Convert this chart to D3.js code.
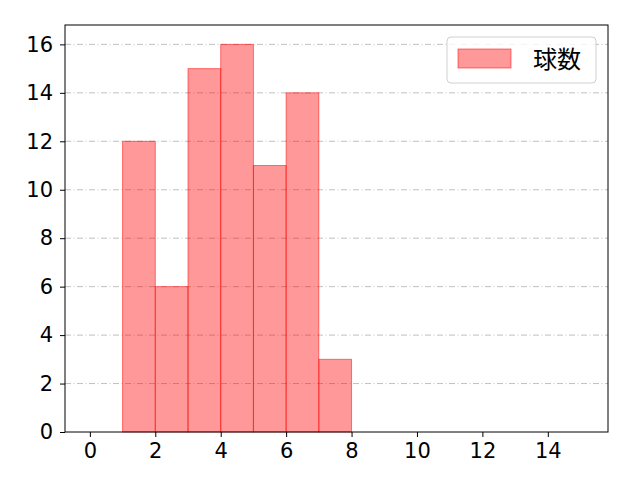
<!DOCTYPE html>
<html>
<head>
<meta charset="utf-8">
<script src="https://cdn.jsdelivr.net/npm/d3@7"></script>
<style>
  body { margin: 0; background: #fff; }
  text { font-family: "Noto Sans CJK JP", "DejaVu Sans", sans-serif; }
</style>
</head>
<body>
<div id="wrapper"></div>
<script>
// ---------- DATA ----------
const binStarts = [0, 1, 2, 3, 4, 5, 6, 7];
const counts = [0, 12, 6, 15, 16, 11, 14, 3];
const xTicks = [0, 2, 4, 6, 8, 10, 12, 14];
const yTicks = [0, 2, 4, 6, 8, 10, 12, 14, 16];
const seriesName = "球数";

// ---------- DIMENSIONS ----------
const dimensions = {
  width: 640,
  height: 480,
  margin: { top: 25, right: 32, bottom: 48, left: 65 },
};
dimensions.boundedWidth = dimensions.width - dimensions.margin.left - dimensions.margin.right;
dimensions.boundedHeight = dimensions.height - dimensions.margin.top - dimensions.margin.bottom;

const svg = d3.select("#wrapper").append("svg")
  .attr("width", dimensions.width)
  .attr("height", dimensions.height);

const bounds = svg.append("g")
  .attr("transform", `translate(${dimensions.margin.left},${dimensions.margin.top})`);

// ---------- SCALES ----------
const xScale = d3.scaleLinear()
  .domain([-0.76, 15.84])
  .range([0, dimensions.boundedWidth]);
const yScale = d3.scaleLinear()
  .domain([0, 16.8])
  .range([dimensions.boundedHeight, 0]);

// grid
bounds.append("g").selectAll("line")
  .data(yTicks.slice(1))
  .join("line")
  .attr("x1", 0).attr("x2", dimensions.boundedWidth)
  .attr("y1", d => yScale(d)).attr("y2", d => yScale(d))
  .attr("stroke", "#b0b0b0")
  .attr("stroke-width", 0.8)
  .attr("stroke-dasharray", "6,2.5,1,2.5");

// bars
bounds.append("g").selectAll("rect")
  .data(binStarts.map((s, i) => ({ x0: s, x1: s + 1, n: counts[i] })))
  .join("rect")
  .attr("x", d => xScale(d.x0))
  .attr("width", d => xScale(d.x1) - xScale(d.x0))
  .attr("y", d => yScale(d.n))
  .attr("height", d => dimensions.boundedHeight - yScale(d.n))
  .attr("fill", "rgba(255,0,0,0.4)")
  .attr("stroke", "rgba(255,0,0,0.5)")
  .attr("stroke-width", 1);

// frame
bounds.append("rect")
  .attr("width", dimensions.boundedWidth)
  .attr("height", dimensions.boundedHeight)
  .attr("fill", "none")
  .attr("stroke", "#000")
  .attr("stroke-width", 1);

// axes
const xAxis = bounds.append("g")
  .attr("transform", `translate(0,${dimensions.boundedHeight})`)
  .call(d3.axisBottom(xScale).tickValues(xTicks).tickSize(5).tickPadding(5));
const yAxis = bounds.append("g")
  .call(d3.axisLeft(yScale).tickValues(yTicks).tickSize(5).tickPadding(7));
[xAxis, yAxis].forEach(a => {
  a.select(".domain").remove();
  a.attr("font-size", null).attr("font-family", null);
  a.selectAll("text")
    .attr("fill", "#000")
    .style("font-size", "21px")
    .style("font-family", '"DejaVu Sans", sans-serif');
  a.selectAll("line").attr("stroke", "#000");
});
xAxis.selectAll("text").attr("dy", "0.75em");

// legend
const legend = bounds.append("g")
  .attr("transform", `translate(${dimensions.boundedWidth - 161},12)`);
legend.append("rect")
  .attr("width", 149).attr("height", 46).attr("rx", 4)
  .attr("fill", "rgba(255,255,255,0.8)")
  .attr("stroke", "#d0d0d0");
legend.append("rect")
  .attr("x", 11).attr("y", 12).attr("width", 53).attr("height", 19)
  .attr("fill", "rgba(255,0,0,0.4)")
  .attr("stroke", "rgba(255,0,0,0.5)");
legend.append("text")
  .attr("x", 86).attr("y", 23).attr("dy", "0.35em")
  .style("font-size", "24px")
  .text(seriesName);
</script>
</body>
</html>
